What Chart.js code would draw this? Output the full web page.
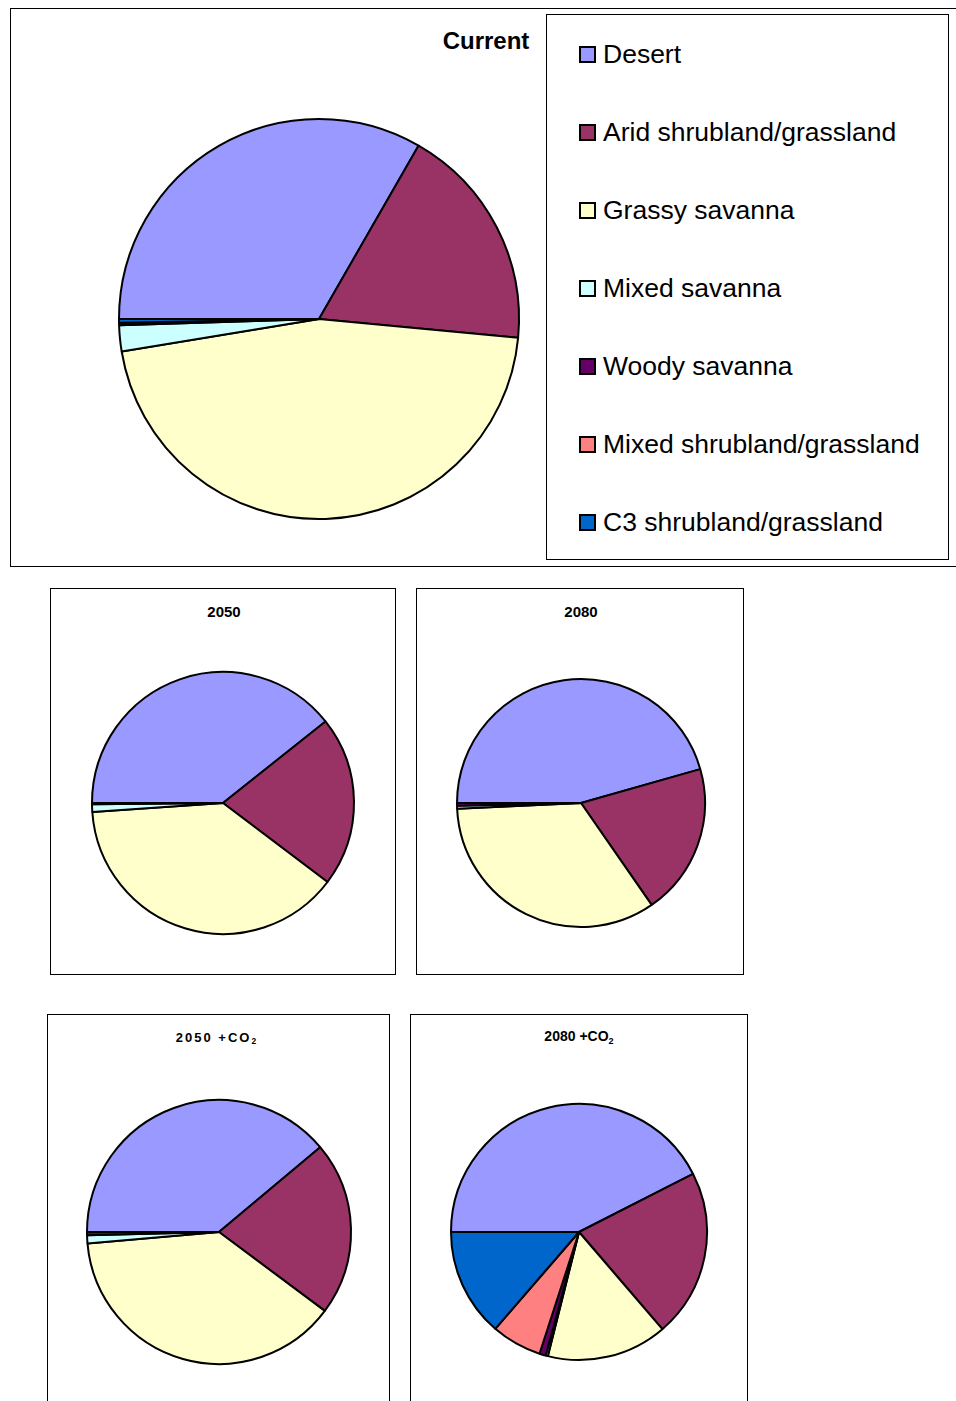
<!DOCTYPE html>
<html>
<head>
<meta charset="utf-8">
<title>Vegetation cover</title>
<script src="https://cdn.jsdelivr.net/npm/chart.js@4.4.0/dist/chart.umd.min.js"></script>
<style>
  body { margin: 0; width: 956px; height: 1401px; overflow: hidden; background: #fff; font-family: "Liberation Sans", Arial, sans-serif; position: relative; }
  .box { position: absolute; border: 1px solid #000; box-sizing: border-box; }
  .title { position: absolute; font-weight: bold; color: #000; transform: translate(-50%, -50%); white-space: nowrap; }
  canvas { position: absolute; }
  .legend-item { position: absolute; left: 579px; height: 30px; display: flex; align-items: center; transform: translateY(-50%); font-size: 26.5px; color: #000; white-space: nowrap; }
  .legend-item span.sw { width: 17px; height: 17px; box-sizing: border-box; border: 2px solid #000; margin-right: 7px; }
  sub { font-size: 0.65em; vertical-align: -0.25em; }
</style>
</head>
<body>

<div class="box" style="left:10px; top:8px; width:960px; height:559px;"></div>
<div class="box" style="left:546px; top:14px; width:403px; height:546px;"></div>
<div class="box" style="left:50px; top:588px; width:346px; height:387px;"></div>
<div class="box" style="left:416px; top:588px; width:328px; height:387px;"></div>
<div class="box" style="left:47px; top:1014px; width:343px; height:420px;"></div>
<div class="box" style="left:410px; top:1014px; width:338px; height:420px;"></div>

<div class="title" style="left:486px; top:41px; font-size:24px;">Current</div>
<div class="title" style="left:224px; top:611px; font-size:15px;">2050</div>
<div class="title" style="left:581px; top:611px; font-size:15px;">2080</div>
<div class="title" style="left:217px; top:1038px; font-size:13px; letter-spacing:2px;">2050 +CO<sub>2</sub></div>
<div class="title" style="left:579px; top:1037px; font-size:14px;">2080 +CO<sub>2</sub></div>

<div id="legend"></div>

<canvas id="pieCurrent"></canvas>
<canvas id="pie2050"></canvas>
<canvas id="pie2080"></canvas>
<canvas id="pie2050co2"></canvas>
<canvas id="pie2080co2"></canvas>

<script>
// vegetation classes and their fill colours
const categories = [
  "Desert",
  "Arid shrubland/grassland",
  "Grassy savanna",
  "Mixed savanna",
  "Woody savanna",
  "Mixed shrubland/grassland",
  "C3 shrubland/grassland"
];
const colors = ["#9999FF", "#993366", "#FFFFCC", "#CCFFFF", "#660066", "#FF8080", "#0066CC"];

// share of area (%) per class
const currentValues = [33.3, 18.2, 45.9, 2.1, 0.2, 0, 0.3];
const values2050    = [39.3, 21.0, 38.6, 0.95, 0.15, 0, 0];
const values2080    = [45.6, 19.75, 33.9, 0.4, 0.35, 0, 0];
const values2050co2 = [38.9, 21.3, 38.4, 1.0, 0.4, 0, 0];
const values2080co2 = [42.5, 21.2, 15.2, 0.28, 0.8, 6.35, 13.65];

function buildLegend() {
  const legend = document.getElementById("legend");
  categories.forEach((name, i) => {
    const item = document.createElement("div");
    item.className = "legend-item";
    item.style.top = (54 + i * 78) + "px";
    item.innerHTML = `<span class="sw" style="background:${colors[i]}"></span>${name}`;
    legend.appendChild(item);
  });
}

function drawPie(id, values, cx, cy, r) {
  const canvas = document.getElementById(id);
  const half = r + 6;
  canvas.width = half * 2;
  canvas.height = half * 2;
  canvas.style.left = (cx - half) + "px";
  canvas.style.top = (cy - half) + "px";

  return new Chart(canvas.getContext("2d"), {
    type: "pie",
    data: {
      labels: categories,
      datasets: [{ data: values, backgroundColor: colors, borderColor: "#000", borderWidth: 2 }]
    },
    options: {
      responsive: false,
      animation: false,
      rotation: -90,
      radius: r,
      layout: { padding: 0 },
      plugins: { legend: { display: false }, tooltip: { enabled: false } }
    }
  });
}

document.addEventListener("DOMContentLoaded", () => {
  buildLegend();
  drawPie("pieCurrent", currentValues, 318.5, 319, 200);
  drawPie("pie2050", values2050, 223, 803, 131);
  drawPie("pie2080", values2080, 581, 803, 124);
  drawPie("pie2050co2", values2050co2, 219, 1231.5, 132);
  drawPie("pie2080co2", values2080co2, 579, 1232, 128);
});
</script>
</body>
</html>
